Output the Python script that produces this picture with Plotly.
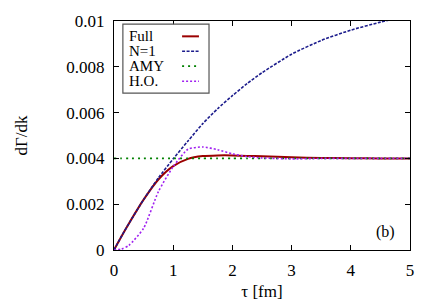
import plotly.graph_objects as go

# tau [fm]
tau = [0, 0.125, 0.25, 0.5, 0.75, 1.0, 1.25, 1.5, 1.75, 2.0, 2.25, 2.5, 3.0, 3.5, 4.0, 4.5, 5.0]

# dGamma/dk values
full = [0, 0.00059, 0.00115, 0.0022, 0.00308, 0.00366, 0.00398, 0.0041, 0.00413, 0.00413, 0.00411, 0.00409, 0.00405, 0.00402, 0.00401, 0.004, 0.004]
n1 = [0, 0.00059, 0.00115, 0.0022, 0.00315, 0.00398, 0.00476, 0.00552, 0.00617, 0.00674, 0.00727, 0.00774, 0.00855, 0.00915, 0.0096, 0.00995, 0.01025]
amy = [0.004] * len(tau)
ho = [0, 0.00004, 0.0002, 0.00095, 0.00255, 0.00364, 0.0044, 0.0045, 0.00438, 0.0042, 0.00408, 0.00402, 0.00398, 0.004, 0.004, 0.004, 0.004]

y_ticks = [0, 0.002, 0.004, 0.006, 0.008, 0.01]
y_tick_labels = ["0", "0.002", "0.004", "0.006", "0.008", "0.01"]

series_names = ["Full", "N=1", "AMY", "H.O."]
colors = ["#9b0000", "#1c1c8c", "#008000", "#a020f0"]
dashes = ["solid", "3px,1.5px", "2px,4px", "2px,2px"]
widths = [2, 1.6, 1.6, 1.6]
values = [full, n1, amy, ho]

fig = go.Figure()
for name, ys, c, d, w in zip(series_names, values, colors, dashes, widths):
    fig.add_trace(go.Scatter(x=tau, y=ys, mode="lines", name=name,
                             line=dict(color=c, dash=d, width=w, shape="spline", smoothing=0.6),
                             showlegend=False))

font = "Liberation Serif, Times New Roman, serif"
axis_common = dict(showgrid=False, zeroline=False, showline=True, linecolor="black", linewidth=1,
                   mirror="ticks", ticks="inside", ticklen=5, tickcolor="black", automargin=False,
                   ticklabelstandoff=5,
                   tickfont=dict(family=font, size=17, color="black"))

fig.update_layout(
    width=428, height=297,
    margin=dict(l=106, r=26, t=13, b=55),
    paper_bgcolor="white", plot_bgcolor="white",
    xaxis=dict(range=[0, 5], dtick=1, title=dict(text="τ [fm]", font=dict(family=font, size=17, color="black"), standoff=5), **axis_common),
    yaxis=dict(range=[0, 0.01], tickvals=y_ticks, ticktext=y_tick_labels,
               title=dict(text="dΓ/dk", font=dict(family=font, size=17, color="black"), standoff=34), **axis_common),
)

# Legend (gnuplot style: label left, sample right)
fig.add_shape(type="rect", xref="paper", yref="paper", x0=0.030, x1=0.321, y0=0.685, y1=0.986,
              line=dict(color="#555555", width=1.2), fillcolor="white")
ys_leg = [0.933, 0.868, 0.803, 0.737]
for name, c, d, w, yl in zip(series_names, colors, dashes, widths, ys_leg):
    fig.add_annotation(text=name, xref="paper", yref="paper", x=0.044, y=yl, xanchor="left", yanchor="middle",
                       showarrow=False, font=dict(family=font, size=15, color="black"))
    fig.add_shape(type="line", xref="paper", yref="paper", x0=0.230, x1=0.287, y0=yl, y1=yl,
                  line=dict(color=c, dash=d, width=w))

fig.add_annotation(text="(b)", xref="paper", yref="paper", x=0.955, y=0.08, xanchor="right", yanchor="middle",
                   showarrow=False, font=dict(family=font, size=16, color="black"))

fig.write_html("out.html")
